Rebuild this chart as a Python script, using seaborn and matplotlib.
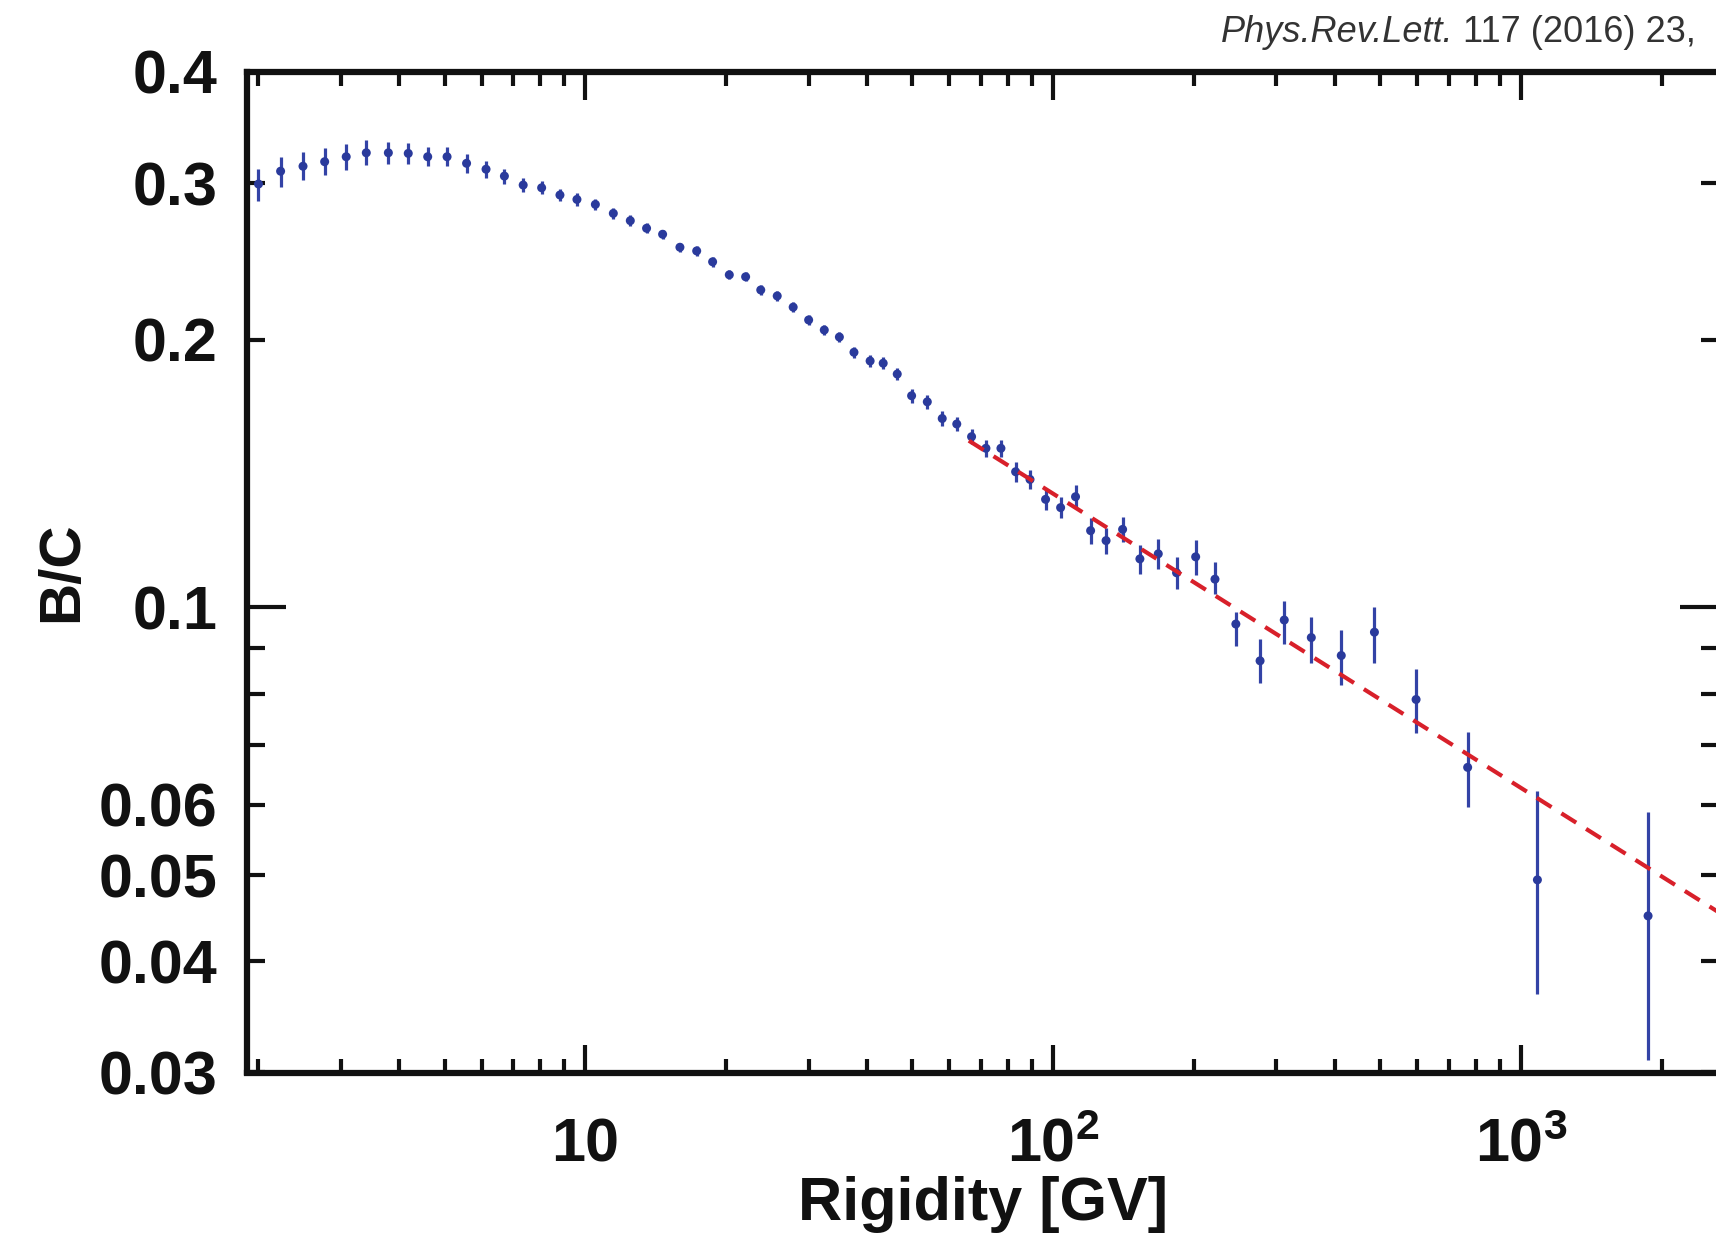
import numpy as np
import pandas as pd
import matplotlib
matplotlib.use("Agg")
import matplotlib.pyplot as plt
import seaborn as sns
from matplotlib.ticker import FixedLocator, FixedFormatter, NullFormatter

# ---------------- data ----------------
rigidity = [2.00, 2.23, 2.49, 2.77, 3.08, 3.40, 3.79, 4.18, 4.60, 5.06,
            5.57, 6.13, 6.71, 7.36, 8.06, 8.82, 9.59, 10.5, 11.47, 12.47,
            13.51, 14.62, 15.92, 17.29, 18.7, 20.3, 22.0, 23.7, 25.7, 27.8,
            30.0, 32.4, 34.9, 37.5, 40.6, 43.3, 46.4, 49.8, 53.8, 57.9,
            62.2, 66.9, 71.8, 77.3, 83.1, 89.2, 96.3, 103.7, 111.6, 120.2,
            129.7, 140.7, 153.2, 167.7, 183.5, 201.6, 221.7, 245.7, 276.8, 311.8,
            356.2, 412.8, 486.0, 596.6, 769.0, 1084.0, 1869.0]
bc = [0.2993, 0.3094, 0.3134, 0.3171, 0.3212, 0.3245, 0.3245, 0.3240, 0.3212, 0.3212,
      0.3158, 0.3110, 0.3055, 0.2985, 0.2964, 0.2909, 0.2876, 0.2839, 0.2774, 0.2722,
      0.2669, 0.2628, 0.2541, 0.2517, 0.2447, 0.2366, 0.2354, 0.2275, 0.2240, 0.2176,
      0.2105, 0.2051, 0.2014, 0.1936, 0.1893, 0.1882, 0.1830, 0.1730, 0.1703, 0.1631,
      0.1608, 0.1556, 0.1510, 0.1510, 0.1421, 0.1393, 0.1323, 0.1295, 0.1332, 0.1220,
      0.1189, 0.1224, 0.1134, 0.1149, 0.1094, 0.1140, 0.1076, 0.0958, 0.0871, 0.0968,
      0.0925, 0.0883, 0.0938, 0.0788, 0.0661, 0.0494, 0.0450]
bc_err_lo = [0.0130, 0.0122, 0.0110, 0.0110, 0.0110, 0.0104, 0.0090, 0.0090, 0.0080, 0.0080,
             0.0075, 0.0070, 0.0060, 0.0052, 0.0050, 0.0045, 0.0045, 0.0042, 0.0040, 0.0038,
             0.0035, 0.0032, 0.0030, 0.0030, 0.0030, 0.0028, 0.0028, 0.0028, 0.0028, 0.0028,
             0.0028, 0.0028, 0.0028, 0.0028, 0.0028, 0.0030, 0.0030, 0.0030, 0.0030, 0.0030,
             0.0030, 0.0030, 0.0034, 0.0034, 0.0036, 0.0035, 0.0037, 0.0035, 0.0040, 0.0042,
             0.0040, 0.0040, 0.0043, 0.0045, 0.0046, 0.0052, 0.0040, 0.0054, 0.0049, 0.0058,
             0.0058, 0.0064, 0.0071, 0.0065, 0.0064, 0.0126, 0.0140]
bc_err_hi = [0.0117, 0.0114, 0.0117, 0.0114, 0.0107, 0.0109, 0.0090, 0.0090, 0.0080, 0.0080,
             0.0075, 0.0070, 0.0060, 0.0052, 0.0050, 0.0045, 0.0045, 0.0042, 0.0040, 0.0038,
             0.0035, 0.0032, 0.0030, 0.0030, 0.0030, 0.0028, 0.0028, 0.0028, 0.0028, 0.0028,
             0.0028, 0.0028, 0.0028, 0.0028, 0.0028, 0.0030, 0.0030, 0.0030, 0.0030, 0.0030,
             0.0030, 0.0030, 0.0034, 0.0034, 0.0036, 0.0035, 0.0037, 0.0035, 0.0040, 0.0042,
             0.0040, 0.0040, 0.0043, 0.0045, 0.0046, 0.0052, 0.0050, 0.0031, 0.0050, 0.0050,
             0.0051, 0.0060, 0.0062, 0.0064, 0.0064, 0.0127, 0.0139]

fit_rigidity = [66.0, 2650.0]
fit_bc = [0.1540, 0.0454]

xtick_vals = [10, 100, 1000]
xtick_labels = ["10", r"$10^{2}$", r"$10^{3}$"]
xminor_vals = [2, 3, 4, 5, 6, 7, 8, 9, 20, 30, 40, 50, 60, 70, 80, 90,
               200, 300, 400, 500, 600, 700, 800, 900, 2000]
ytick_major = [0.1]
ytick_major_labels = ["0.1"]
ytick_minor = [0.03, 0.04, 0.05, 0.06, 0.07, 0.08, 0.09, 0.2, 0.3, 0.4]
ytick_minor_labels = ["0.03", "0.04", "0.05", "0.06", "", "", "", "0.2", "0.3", "0.4"]

xlabel = "Rigidity [GV]"
ylabel = "B/C"
cite_italic = "Phys.Rev.Lett."
cite_regular = " 117 (2016) 23,"

# ---------------- style ----------------
sns.set_theme(style="ticks")
plt.rcParams["font.family"] = ["Liberation Sans", "DejaVu Sans"]
plt.rcParams["mathtext.fontset"] = "custom"
plt.rcParams["mathtext.rm"] = "Liberation Sans:bold"
plt.rcParams["mathtext.bf"] = "Liberation Sans:bold"
plt.rcParams["mathtext.it"] = "Liberation Sans:bold:italic"
plt.rcParams["mathtext.default"] = "rm"

W, H = 1716, 1243
fig = plt.figure(figsize=(W / 100, H / 100), dpi=100)
left_px, right_px, top_px, bottom_px = 247, 1719, 72, 1072.5
ax = fig.add_axes([left_px / W, 1 - bottom_px / H,
                   (right_px - left_px) / W, (bottom_px - top_px) / H])

df = pd.DataFrame({"rigidity": rigidity, "bc": bc})
fit_df = pd.DataFrame({"rigidity": fit_rigidity, "bc": fit_bc})

blue = "#2a3a9c"
ax.errorbar(df["rigidity"], df["bc"], yerr=[bc_err_lo, bc_err_hi], fmt="none",
            ecolor="#3343a6", elinewidth=2.3, capsize=0, zorder=2)
sns.scatterplot(data=df, x="rigidity", y="bc", ax=ax, s=42, color=blue,
                edgecolor="none", linewidth=0, zorder=3, legend=False)
sns.lineplot(data=fit_df, x="rigidity", y="bc", ax=ax, color="#d8202a",
             linewidth=3.0, dashes=False, zorder=4, legend=False)
ax.lines[-1].set_dashes((4.2, 2.8))

ax.set_xscale("log")
ax.set_yscale("log")
ax.set_xlim(1.89, 2650)
ax.set_ylim(0.03, 0.4)

for sp in ax.spines.values():
    sp.set_visible(True)
    sp.set_linewidth(4.5)
    sp.set_color("#111111")

ax.xaxis.set_major_locator(FixedLocator(xtick_vals))
ax.xaxis.set_major_formatter(FixedFormatter(xtick_labels))
ax.xaxis.set_minor_locator(FixedLocator(xminor_vals))
ax.xaxis.set_minor_formatter(NullFormatter())
ax.yaxis.set_major_locator(FixedLocator(ytick_major))
ax.yaxis.set_major_formatter(FixedFormatter(ytick_major_labels))
ax.yaxis.set_minor_locator(FixedLocator(ytick_minor))
ax.yaxis.set_minor_formatter(FixedFormatter(ytick_minor_labels))

ax.tick_params(which="both", direction="in", top=True, right=True,
               width=3, color="#111111", labelcolor="#111111")
ax.tick_params(axis="x", which="major", length=20, pad=64, labelsize=44)
ax.tick_params(axis="x", which="minor", length=10)
ax.tick_params(axis="y", which="major", length=28, pad=21, labelsize=44)
ax.tick_params(axis="y", which="minor", length=13, pad=21, labelsize=44)

for lbl in ax.get_xticklabels():
    lbl.set_fontweight("bold")
    lbl.set_verticalalignment("baseline")
for lbl in ax.get_yticklabels(which="both"):
    lbl.set_fontweight("bold")

ax.set_xlabel(xlabel, fontsize=44, fontweight="bold", color="#111111")
ax.set_ylabel(ylabel, fontsize=42, fontweight="bold", color="#111111")
ax.xaxis.label.set_verticalalignment("baseline")
ax.xaxis.set_label_coords(0.5, -0.1474)
ax.yaxis.label.set_verticalalignment("center")
ax.yaxis.set_label_coords(-0.1257, 0.5)

# citation text at the top right
renderer = fig.canvas.get_renderer()
t_reg = fig.text(1696 / W, 1 - 41.6 / H, cite_regular, fontsize=26, color="#333333",
                 ha="right", va="baseline")
bb = t_reg.get_window_extent(renderer=renderer)
fig.text(bb.x0 / W, 1 - 41.6 / H, cite_italic, fontsize=26, color="#333333",
         ha="right", va="baseline", style="italic")

fig.savefig("out.png", dpi=100)
